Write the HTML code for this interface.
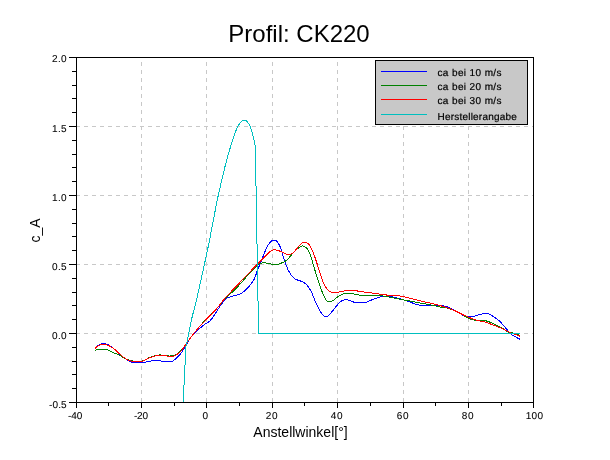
<!DOCTYPE html>
<html><head><meta charset="utf-8"><title>Profil: CK220</title>
<style>
html,body{margin:0;padding:0;background:#fff;}
body{width:610px;height:460px;overflow:hidden;font-family:"Liberation Sans",sans-serif;}
svg{display:block;will-change:transform;}
text{font-family:"Liberation Sans",sans-serif;fill:#000;}
.tk{font-size:10px;text-rendering:geometricPrecision;stroke:#000;stroke-width:0.08px;}
.lg{font-size:10px;text-rendering:geometricPrecision;stroke:#000;stroke-width:0.2px;}
</style></head><body>
<svg width="610" height="460" viewBox="0 0 610 460">
<rect x="0" y="0" width="610" height="460" fill="#ffffff"/>
<g stroke="#c8c8c8" stroke-width="1" stroke-dasharray="4 4" shape-rendering="crispEdges" fill="none"><line x1="141.5" y1="402" x2="141.5" y2="58"/><line x1="206.5" y1="402" x2="206.5" y2="58"/><line x1="272.5" y1="402" x2="272.5" y2="58"/><line x1="337.5" y1="402" x2="337.5" y2="58"/><line x1="403.5" y1="402" x2="403.5" y2="58"/><line x1="468.5" y1="402" x2="468.5" y2="58"/><line x1="76" y1="126.5" x2="533" y2="126.5"/><line x1="76" y1="195.5" x2="533" y2="195.5"/><line x1="76" y1="264.5" x2="533" y2="264.5"/><line x1="76" y1="333.5" x2="533" y2="333.5"/></g>
<g fill="none" stroke-width="1" stroke-linejoin="round" shape-rendering="crispEdges">
<path stroke="#0000ff" d="M94.90 348.50 C95.45 347.95 96.83 346.02 98.20 345.20 C99.57 344.38 101.47 343.68 103.10 343.60 C104.73 343.52 106.08 343.75 108.00 344.70 C109.92 345.65 112.13 347.27 114.60 349.30 C117.07 351.33 120.35 354.95 122.80 356.90 C125.25 358.85 127.67 360.07 129.30 361.00 C130.93 361.93 130.40 362.25 132.60 362.50 C134.80 362.75 139.22 362.78 142.50 362.50 C145.78 362.22 149.57 361.13 152.30 360.80 C155.03 360.47 156.98 360.37 158.90 360.50 C160.82 360.63 161.77 361.42 163.80 361.60 C165.83 361.78 169.20 362.00 171.10 361.60 C173.00 361.20 173.68 360.42 175.20 359.20 C176.72 357.98 178.55 356.35 180.20 354.30 C181.85 352.25 183.30 349.78 185.10 346.90 C186.90 344.02 188.82 339.83 191.00 337.00 C193.18 334.17 195.97 331.97 198.20 329.90 C200.43 327.83 202.80 325.80 204.40 324.60 C206.00 323.40 206.70 323.52 207.80 322.70 C208.90 321.88 209.82 321.10 211.00 319.70 C212.18 318.30 213.53 316.35 214.90 314.30 C216.27 312.25 217.40 309.92 219.20 307.40 C221.00 304.88 223.78 300.98 225.70 299.20 C227.62 297.42 228.23 297.58 230.70 296.70 C233.17 295.82 237.78 295.27 240.50 293.90 C243.22 292.53 244.82 290.77 247.00 288.50 C249.18 286.23 251.82 283.43 253.60 280.30 C255.38 277.17 256.38 273.00 257.70 269.70 C259.02 266.40 260.08 264.00 261.50 260.50 C262.92 257.00 264.73 251.77 266.20 248.70 C267.67 245.63 269.07 243.52 270.30 242.10 C271.53 240.68 272.50 240.33 273.60 240.20 C274.70 240.07 275.80 240.17 276.90 241.30 C278.00 242.43 279.12 244.40 280.20 247.00 C281.28 249.60 282.32 253.62 283.40 256.90 C284.48 260.18 285.60 263.97 286.70 266.70 C287.80 269.43 288.77 271.38 290.00 273.30 C291.23 275.22 292.73 277.03 294.10 278.20 C295.47 279.37 296.70 279.67 298.20 280.30 C299.70 280.93 301.58 281.13 303.10 282.00 C304.62 282.87 305.92 283.83 307.30 285.50 C308.68 287.17 310.03 289.27 311.40 292.00 C312.77 294.73 314.00 298.62 315.50 301.90 C317.00 305.18 318.90 309.30 320.40 311.70 C321.90 314.10 323.40 315.48 324.50 316.30 C325.60 317.12 326.05 317.00 327.00 316.60 C327.95 316.20 328.83 315.40 330.20 313.90 C331.57 312.40 333.55 309.60 335.20 307.60 C336.85 305.60 338.60 303.18 340.10 301.90 C341.60 300.62 342.70 300.18 344.20 299.90 C345.70 299.62 347.33 299.78 349.10 300.20 C350.87 300.62 352.88 301.98 354.80 302.40 C356.72 302.82 358.82 302.70 360.60 302.70 C362.38 302.70 363.60 302.88 365.50 302.40 C367.40 301.92 369.82 300.62 372.00 299.80 C374.18 298.98 376.40 298.12 378.60 297.50 C380.80 296.88 382.77 296.18 385.20 296.10 C387.63 296.02 390.50 296.48 393.20 297.00 C395.90 297.52 398.67 298.37 401.40 299.20 C404.13 300.03 406.87 301.07 409.60 302.00 C412.33 302.93 415.62 304.20 417.80 304.80 C419.98 305.40 420.25 305.53 422.70 305.60 C425.15 305.67 429.77 305.27 432.50 305.20 C435.23 305.13 436.63 304.92 439.10 305.20 C441.57 305.48 444.57 305.93 447.30 306.90 C450.03 307.87 452.77 309.55 455.50 311.00 C458.23 312.45 461.62 314.60 463.70 315.60 C465.78 316.60 466.18 316.92 468.00 317.00 C469.82 317.08 472.42 316.57 474.60 316.10 C476.78 315.63 479.18 314.65 481.10 314.20 C483.02 313.75 484.58 313.35 486.10 313.40 C487.62 313.45 488.70 313.77 490.20 314.50 C491.70 315.23 493.60 316.77 495.10 317.80 C496.60 318.83 497.97 319.62 499.20 320.70 C500.43 321.78 501.13 322.73 502.50 324.30 C503.87 325.87 505.77 328.32 507.40 330.10 C509.03 331.88 510.67 333.72 512.30 335.00 C513.93 336.28 515.88 337.07 517.20 337.80 C518.52 338.53 519.70 339.13 520.20 339.40"/>
<path stroke="#008000" d="M94.90 350.20 C95.72 350.05 97.88 349.45 99.80 349.30 C101.72 349.15 104.48 348.88 106.40 349.30 C108.32 349.72 109.12 350.83 111.30 351.80 C113.48 352.77 117.32 354.00 119.50 355.10 C121.68 356.20 122.77 357.58 124.40 358.40 C126.03 359.22 127.65 359.53 129.30 360.00 C130.95 360.47 132.10 361.03 134.30 361.20 C136.50 361.37 140.05 361.57 142.50 361.00 C144.95 360.43 146.55 358.77 149.00 357.80 C151.45 356.83 154.73 355.63 157.20 355.20 C159.67 354.77 161.88 355.07 163.80 355.20 C165.72 355.33 167.07 355.93 168.70 356.00 C170.33 356.07 171.97 356.10 173.60 355.60 C175.23 355.10 176.98 354.13 178.50 353.00 C180.02 351.87 181.20 350.67 182.70 348.80 C184.20 346.93 185.32 344.77 187.50 341.80 C189.68 338.83 192.82 334.63 195.80 331.00 C198.78 327.37 202.22 323.42 205.40 320.00 C208.58 316.58 211.52 314.17 214.90 310.50 C218.28 306.83 223.07 300.83 225.70 298.00 C228.33 295.17 228.82 295.25 230.70 293.50 C232.58 291.75 234.62 290.00 237.00 287.50 C239.38 285.00 242.67 281.17 245.00 278.50 C247.33 275.83 249.02 273.65 251.00 271.50 C252.98 269.35 255.45 266.95 256.90 265.60 C258.35 264.25 258.15 263.83 259.70 263.40 C261.25 262.97 264.02 262.85 266.20 263.00 C268.38 263.15 270.62 264.15 272.80 264.30 C274.98 264.45 276.98 264.58 279.30 263.90 C281.62 263.22 284.50 261.92 286.70 260.20 C288.90 258.48 290.72 255.52 292.50 253.60 C294.28 251.68 295.90 249.93 297.40 248.70 C298.90 247.47 300.42 246.62 301.50 246.20 C302.58 245.78 302.95 245.78 303.90 246.20 C304.85 246.62 306.10 247.20 307.20 248.70 C308.30 250.20 309.27 251.78 310.50 255.20 C311.73 258.62 313.23 264.68 314.60 269.20 C315.97 273.72 317.60 278.90 318.70 282.30 C319.80 285.70 319.97 286.68 321.20 289.60 C322.43 292.52 324.87 297.83 326.10 299.80 C327.33 301.77 327.50 301.25 328.60 301.40 C329.70 301.55 331.20 301.43 332.70 300.70 C334.20 299.97 335.97 298.08 337.60 297.00 C339.23 295.92 340.85 294.83 342.50 294.20 C344.15 293.57 345.85 293.28 347.50 293.20 C349.15 293.12 350.22 293.35 352.40 293.70 C354.58 294.05 357.87 295.03 360.60 295.30 C363.33 295.57 366.07 295.22 368.80 295.30 C371.53 295.38 374.30 295.65 377.00 295.80 C379.70 295.95 380.93 295.58 385.00 296.20 C389.07 296.82 395.93 298.45 401.40 299.50 C406.87 300.55 412.33 301.47 417.80 302.50 C423.27 303.53 430.10 304.88 434.20 305.70 C438.30 306.52 440.22 307.02 442.40 307.40 C444.58 307.78 445.12 307.37 447.30 308.00 C449.48 308.63 452.77 309.95 455.50 311.20 C458.23 312.45 461.25 314.22 463.70 315.50 C466.15 316.78 468.02 318.07 470.20 318.90 C472.38 319.73 474.70 320.28 476.80 320.50 C478.90 320.72 480.72 319.97 482.80 320.20 C484.88 320.43 487.12 321.07 489.30 321.90 C491.48 322.73 493.70 324.12 495.90 325.20 C498.10 326.28 500.58 327.32 502.50 328.40 C504.42 329.48 505.77 330.95 507.40 331.70 C509.03 332.45 510.17 332.27 512.30 332.90 C514.43 333.53 518.88 335.07 520.20 335.50"/>
<path stroke="#ff0000" d="M94.90 348.50 C95.45 348.05 96.83 346.48 98.20 345.80 C99.57 345.12 101.47 344.50 103.10 344.40 C104.73 344.30 106.08 344.38 108.00 345.20 C109.92 346.02 112.13 347.38 114.60 349.30 C117.07 351.22 120.35 354.83 122.80 356.70 C125.25 358.57 127.38 359.68 129.30 360.50 C131.22 361.32 132.10 361.47 134.30 361.60 C136.50 361.73 140.05 361.90 142.50 361.30 C144.95 360.70 146.55 358.98 149.00 358.00 C151.45 357.02 154.73 355.83 157.20 355.40 C159.67 354.97 161.88 355.23 163.80 355.40 C165.72 355.57 167.07 356.27 168.70 356.40 C170.33 356.53 171.97 356.70 173.60 356.20 C175.23 355.70 176.98 354.60 178.50 353.40 C180.02 352.20 181.20 350.93 182.70 349.00 C184.20 347.07 185.32 344.80 187.50 341.80 C189.68 338.80 192.82 334.58 195.80 331.00 C198.78 327.42 202.22 323.68 205.40 320.30 C208.58 316.92 211.52 314.50 214.90 310.70 C218.28 306.90 221.52 302.23 225.70 297.50 C229.88 292.77 234.88 287.70 240.00 282.30 C245.12 276.90 252.30 269.33 256.40 265.10 C260.50 260.87 262.15 259.28 264.60 256.90 C267.05 254.52 269.33 251.98 271.10 250.80 C272.87 249.62 273.55 249.68 275.20 249.80 C276.85 249.92 278.95 250.73 281.00 251.50 C283.05 252.27 285.58 254.10 287.50 254.40 C289.42 254.70 290.85 254.38 292.50 253.30 C294.15 252.22 295.77 249.62 297.40 247.90 C299.03 246.18 301.07 243.97 302.30 243.00 C303.53 242.03 303.70 241.88 304.80 242.10 C305.90 242.32 307.53 242.65 308.90 244.30 C310.27 245.95 311.65 248.82 313.00 252.00 C314.35 255.18 315.65 259.30 317.00 263.40 C318.35 267.50 319.73 272.77 321.10 276.60 C322.47 280.43 323.82 283.97 325.20 286.40 C326.58 288.83 327.88 290.12 329.40 291.20 C330.92 292.28 332.38 292.83 334.30 292.90 C336.22 292.97 338.70 292.02 340.90 291.60 C343.10 291.18 345.32 290.60 347.50 290.40 C349.68 290.20 351.82 290.20 354.00 290.40 C356.18 290.60 358.13 291.25 360.60 291.60 C363.07 291.95 366.07 292.15 368.80 292.50 C371.53 292.85 374.30 293.30 377.00 293.70 C379.70 294.10 380.93 294.48 385.00 294.90 C389.07 295.32 395.93 295.30 401.40 296.20 C406.87 297.10 412.33 298.98 417.80 300.30 C423.27 301.62 429.28 302.87 434.20 304.10 C439.12 305.33 443.75 306.55 447.30 307.70 C450.85 308.85 452.77 309.77 455.50 311.00 C458.23 312.23 461.25 313.95 463.70 315.10 C466.15 316.25 468.07 317.07 470.20 317.90 C472.33 318.73 473.85 319.35 476.50 320.10 C479.15 320.85 483.13 321.50 486.10 322.40 C489.07 323.30 491.85 324.57 494.30 325.50 C496.75 326.43 498.75 327.10 500.80 328.00 C502.85 328.90 504.68 330.00 506.60 330.90 C508.52 331.80 510.53 332.72 512.30 333.40 C514.07 334.08 515.88 334.52 517.20 335.00 C518.52 335.48 519.70 336.08 520.20 336.30"/>
<path stroke="#00bfbf" d="M183.10 403.00 L185.90 347.00 L188.70 333.40 C189.28 330.62 190.90 322.27 192.20 316.70 C193.50 311.13 193.95 311.12 196.50 300.00 C199.05 288.88 205.08 261.27 207.50 250.00 C209.92 238.73 209.73 238.88 211.00 232.40 C212.27 225.92 213.87 217.38 215.10 211.10 C216.33 204.82 217.20 200.22 218.40 194.70 C219.60 189.18 221.17 182.83 222.30 178.00 C223.43 173.17 224.03 170.22 225.20 165.70 C226.37 161.18 227.93 155.55 229.30 150.90 C230.67 146.25 232.03 141.77 233.40 137.80 C234.77 133.83 236.13 129.88 237.50 127.10 C238.87 124.32 240.50 122.27 241.60 121.10 C242.70 119.93 243.27 120.10 244.10 120.10 C244.93 120.10 245.65 120.20 246.60 121.10 C247.55 122.00 248.85 123.53 249.80 125.50 C250.75 127.47 251.50 130.03 252.30 132.90 C253.10 135.77 254.09 140.25 254.60 142.70 C255.10 145.15 255.21 146.78 255.33 147.60 L258.58 333.40 L520.00 333.40"/>
</g>
<g stroke="#000" stroke-width="1" shape-rendering="crispEdges"><rect x="76.5" y="57.5" width="457" height="345" fill="none"/><line x1="69" y1="402.5" x2="76" y2="402.5"/><line x1="72" y1="388.5" x2="76" y2="388.5"/><line x1="72" y1="374.5" x2="76" y2="374.5"/><line x1="72" y1="361.5" x2="76" y2="361.5"/><line x1="72" y1="347.5" x2="76" y2="347.5"/><line x1="69" y1="333.5" x2="76" y2="333.5"/><line x1="72" y1="319.5" x2="76" y2="319.5"/><line x1="72" y1="305.5" x2="76" y2="305.5"/><line x1="72" y1="292.5" x2="76" y2="292.5"/><line x1="72" y1="278.5" x2="76" y2="278.5"/><line x1="69" y1="264.5" x2="76" y2="264.5"/><line x1="72" y1="250.5" x2="76" y2="250.5"/><line x1="72" y1="236.5" x2="76" y2="236.5"/><line x1="72" y1="223.5" x2="76" y2="223.5"/><line x1="72" y1="209.5" x2="76" y2="209.5"/><line x1="69" y1="195.5" x2="76" y2="195.5"/><line x1="72" y1="181.5" x2="76" y2="181.5"/><line x1="72" y1="167.5" x2="76" y2="167.5"/><line x1="72" y1="154.5" x2="76" y2="154.5"/><line x1="72" y1="140.5" x2="76" y2="140.5"/><line x1="69" y1="126.5" x2="76" y2="126.5"/><line x1="72" y1="112.5" x2="76" y2="112.5"/><line x1="72" y1="98.5" x2="76" y2="98.5"/><line x1="72" y1="85.5" x2="76" y2="85.5"/><line x1="72" y1="71.5" x2="76" y2="71.5"/><line x1="69" y1="57.5" x2="76" y2="57.5"/><line x1="76.5" y1="403" x2="76.5" y2="408"/><line x1="108.5" y1="403" x2="108.5" y2="406"/><line x1="141.5" y1="403" x2="141.5" y2="408"/><line x1="174.5" y1="403" x2="174.5" y2="406"/><line x1="206.5" y1="403" x2="206.5" y2="408"/><line x1="239.5" y1="403" x2="239.5" y2="406"/><line x1="272.5" y1="403" x2="272.5" y2="408"/><line x1="304.5" y1="403" x2="304.5" y2="406"/><line x1="337.5" y1="403" x2="337.5" y2="408"/><line x1="370.5" y1="403" x2="370.5" y2="406"/><line x1="403.5" y1="403" x2="403.5" y2="408"/><line x1="435.5" y1="403" x2="435.5" y2="406"/><line x1="468.5" y1="403" x2="468.5" y2="408"/><line x1="501.5" y1="403" x2="501.5" y2="406"/><line x1="533.5" y1="403" x2="533.5" y2="408"/></g>
<text class="tk" x="52.0" y="62" textLength="14.6" lengthAdjust="spacing">2.0</text>
<text class="tk" x="52.0" y="132" textLength="14.6" lengthAdjust="spacing">1.5</text>
<text class="tk" x="52.0" y="201" textLength="14.6" lengthAdjust="spacing">1.0</text>
<text class="tk" x="52.0" y="270" textLength="14.6" lengthAdjust="spacing">0.5</text>
<text class="tk" x="52.0" y="339" textLength="14.6" lengthAdjust="spacing">0.0</text>
<text class="tk" x="49.0" y="408" textLength="17.6" lengthAdjust="spacing">-0.5</text>
<text class="tk" x="68.0" y="419" textLength="14.2" lengthAdjust="spacing">-40</text>
<text class="tk" x="133.9" y="419" textLength="14.2" lengthAdjust="spacing">-20</text>
<text class="tk" x="202.6" y="419" textLength="6.0" lengthAdjust="spacing">0</text>
<text class="tk" x="265.7" y="419" textLength="11.8" lengthAdjust="spacing">20</text>
<text class="tk" x="330.7" y="419" textLength="11.8" lengthAdjust="spacing">40</text>
<text class="tk" x="396.7" y="419" textLength="11.8" lengthAdjust="spacing">60</text>
<text class="tk" x="461.7" y="419" textLength="11.8" lengthAdjust="spacing">80</text>
<text class="tk" x="525.8" y="419" textLength="17.2" lengthAdjust="spacing">100</text>
<text x="299" y="42" text-anchor="middle" font-size="24">Profil: CK220</text>
<text x="300.5" y="437" text-anchor="middle" font-size="14">Anstellwinkel[°]</text>
<text transform="translate(40,230.5) rotate(-90)" text-anchor="middle" font-size="14">c_A</text>
<rect x="375.5" y="60.5" width="152" height="64" fill="#c8c8c8" stroke="#000" stroke-width="1" shape-rendering="crispEdges"/>
<line x1="381" y1="71.5" x2="427" y2="71.5" stroke="#0000ff" stroke-width="1" shape-rendering="crispEdges"/>
<text class="lg" x="437.5" y="76" textLength="64.0" lengthAdjust="spacing">ca bei 10 m/s</text>
<line x1="381" y1="85.5" x2="427" y2="85.5" stroke="#008000" stroke-width="1" shape-rendering="crispEdges"/>
<text class="lg" x="437.5" y="90" textLength="64.0" lengthAdjust="spacing">ca bei 20 m/s</text>
<line x1="381" y1="99.5" x2="427" y2="99.5" stroke="#ff0000" stroke-width="1" shape-rendering="crispEdges"/>
<text class="lg" x="437.5" y="104" textLength="64.0" lengthAdjust="spacing">ca bei 30 m/s</text>
<line x1="381" y1="114.5" x2="427" y2="114.5" stroke="#00bfbf" stroke-width="1" shape-rendering="crispEdges"/>
<text class="lg" x="437.5" y="120" textLength="79.3" lengthAdjust="spacing">Herstellerangabe</text>
</svg>
</body></html>
